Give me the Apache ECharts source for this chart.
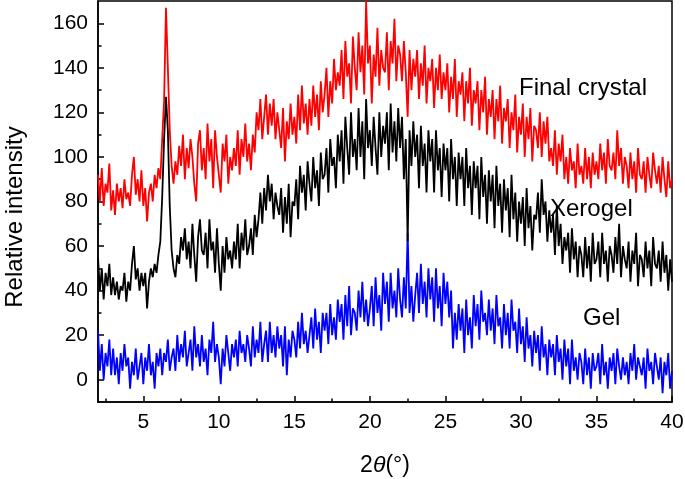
<!DOCTYPE html>
<html>
<head>
<meta charset="utf-8">
<script src="https://cdn.jsdelivr.net/npm/echarts@6/dist/echarts.min.js"></script>
<style>
  html, body { margin: 0; padding: 0; background: #fff; }
  #chart { width: 685px; height: 479px; }
</style>
</head>
<body>
<div id="chart"></div>
<script>
// 2theta grid of the scans: first angle and step (degrees)
var THETA_START = 2;
var THETA_STEP = 0.125;

// intensities, one row per degree (8 samples each)
var finalCrystal = [
  92, 80, 95, 78, 88, 84, 97, 76,
  85, 74, 88, 80, 86, 77, 90, 81,
  84, 78, 92, 100, 83, 90, 80, 94,
  78, 86, 71, 84, 88, 80, 92, 86,
  95, 90, 108, 125, 167, 140, 112, 96,
  88, 98, 92, 105, 96, 110, 90, 104,
  95, 108, 100, 88, 80, 106, 112, 94,
  104, 90, 115, 98, 108, 86, 112, 100,
  92, 84, 106, 98, 110, 88, 100, 94,
  104, 96, 112, 92, 108, 100, 115, 98,
  106, 94, 110, 102, 120, 112, 126, 108,
  118, 128, 110, 124, 114, 126, 108, 120,
  112, 104, 122, 98, 116, 108, 124, 110,
  118, 106, 128, 112, 132, 115, 124, 110,
  126, 114, 132, 118, 128, 112, 134, 120,
  128, 140, 118, 134, 124, 144, 130, 138,
  132, 148, 126, 152, 136, 142, 124, 154,
  140, 130, 156, 138, 150, 128, 170, 142,
  150, 124, 146, 136, 158, 132, 148, 140,
  138, 156, 130, 152, 142, 162, 134, 150,
  146, 134, 152, 138, 118, 148, 130, 144,
  136, 148, 126, 142, 132, 150, 124, 140,
  134, 144, 122, 140, 130, 146, 126, 138,
  130, 142, 120, 136, 126, 144, 118, 134,
  128, 138, 116, 134, 124, 140, 114, 130,
  124, 134, 112, 130, 120, 136, 110, 126,
  118, 130, 108, 126, 116, 132, 106, 122,
  116, 126, 104, 120, 112, 128, 102, 118,
  110, 124, 100, 118, 108, 122, 98, 114,
  112, 104, 120, 100, 116, 106, 118, 98,
  104, 96, 112, 92, 106, 98, 110, 90,
  100, 88, 104, 94, 98, 86, 106, 92,
  96, 88, 104, 90, 100, 86, 102, 92,
  98, 90, 106, 94, 102, 88, 108, 96,
  94, 102, 90, 112, 96, 104, 88, 100,
  96, 86, 102, 90, 98, 84, 104, 92,
  90, 98, 84, 100, 92, 86, 102, 94,
  88, 96, 84, 100, 90, 82, 98, 86,
  90
];

var xerogel = [
  55, 40, 50, 36, 48, 42, 52, 38,
  46, 38, 44, 36, 42, 40, 48, 35,
  44, 40, 52, 60, 45, 50, 40, 48,
  42, 48, 32, 44, 50, 46, 52, 48,
  56, 62, 82, 108, 127, 112, 78, 58,
  50, 46, 56, 52, 64, 58, 68, 54,
  62, 50, 70, 56, 44, 64, 72, 58,
  56, 66, 50, 72, 58, 62, 48, 68,
  52, 40, 60, 48, 64, 54, 58, 50,
  62, 54, 70, 50, 66, 58, 72, 56,
  60, 68, 56, 74, 64, 72, 84, 70,
  86, 76, 92, 80, 88, 72, 84, 78,
  74, 86, 66, 82, 70, 88, 64, 80,
  78, 90, 72, 96, 84, 92, 76, 98,
  88, 80, 100, 86, 94, 78, 102, 90,
  92, 104, 84, 108, 96, 100, 86, 110,
  98, 112, 88, 118, 104, 92, 120, 100,
  108, 94, 122, 100, 116, 90, 126, 104,
  112, 96, 118, 104, 92, 120, 100, 114,
  106, 120, 94, 124, 102, 116, 98, 122,
  104, 118, 90, 108, 62, 112, 96, 116,
  100, 110, 86, 114, 96, 106, 84, 112,
  98, 108, 84, 112, 94, 104, 82, 106,
  94, 104, 80, 108, 90, 100, 78, 102,
  90, 100, 78, 104, 86, 96, 74, 98,
  86, 96, 72, 100, 82, 92, 70, 94,
  80, 92, 68, 96, 78, 88, 66, 90,
  76, 86, 64, 92, 72, 84, 62, 80,
  70, 82, 60, 86, 68, 78, 58, 74,
  72, 84, 66, 90, 74, 80, 62, 76,
  66, 74, 56, 78, 60, 70, 52, 64,
  58, 66, 48, 68, 54, 62, 46, 60,
  56, 46, 64, 50, 60, 44, 66, 52,
  54, 62, 46, 66, 52, 58, 44, 60,
  56, 48, 64, 52, 70, 46, 60, 54,
  50, 62, 44, 58, 52, 66, 42, 56,
  54, 46, 62, 50, 58, 42, 64, 52,
  50, 58, 44, 62, 48, 56, 40, 54,
  44
];

var gel = [
  22, 4, 16, 0, 12, 6, 18, 2,
  14, 2, 10, -2, 12, 4, 16, 6,
  10, -4, 8, 2, 14, 0, 6, 12,
  -2, 10, 4, 16, 2, 8, -4, 12,
  6, 14, 2, 12, 8, 18, 4, 10,
  14, 4, 20, 8, 16, 10, 22, 6,
  12, 18, 4, 24, 10, 16, 6, 20,
  8, 14, 2, 18, 12, 26, 8, 16,
  10, -2, 14, 6, 20, 12, 4, 16,
  10, 18, 6, 22, 12, 16, 8, 20,
  14, 6, 24, 10, 18, 12, 26, 8,
  16, 22, 8, 26, 12, 20, 10, 24,
  14, 20, 6, 24, 2, 18, 10, 22,
  18, 10, 26, 14, 30, 16, 22, 12,
  20, 28, 14, 32, 18, 26, 12, 30,
  22, 30, 16, 34, 20, 28, 18, 36,
  26, 34, 18, 38, 24, 42, 20, 32,
  30, 22, 40, 28, 44, 26, 36, 24,
  32, 42, 24, 46, 30, 38, 22, 48,
  34, 44, 26, 48, 32, 40, 28, 50,
  36, 28, 46, 32, 66, 30, 42, 26,
  38, 48, 30, 52, 34, 44, 28, 50,
  36, 46, 26, 50, 32, 42, 24, 48,
  34, 44, 28, 40, 14, 30, 18, 34,
  22, 32, 12, 36, 20, 28, 14, 38,
  24, 34, 18, 40, 26, 30, 20, 36,
  22, 32, 16, 38, 24, 28, 14, 34,
  20, 30, 14, 36, 22, 26, 12, 32,
  16, 24, 8, 28, 14, 20, 6, 22,
  12, 20, 4, 24, 10, 16, 2, 18,
  10, 16, 2, 20, 8, 14, 0, 18,
  6, 14, -2, 18, 4, 10, 0, 12,
  8, -2, 14, 2, 10, -4, 12, 4,
  6, 12, -2, 16, 2, 8, -4, 10,
  4, 12, -2, 14, 6, 0, 10, 2,
  8, -2, 12, 4, 16, 0, 10, 6,
  2, 10, -4, 14, 4, 8, -2, 12,
  6, 0, 10, -6, 8, 2, 12, -4,
  4
];

// ticks
var xMajorTicks = [5, 10, 15, 20, 25, 30, 35, 40];
var xMinorTicks = [2.5, 7.5, 12.5, 17.5, 22.5, 27.5, 32.5, 37.5];
var yMajorTicks = [0, 20, 40, 60, 80, 100, 120, 140, 160];
var yMinorTicks = [10, 30, 50, 70, 90, 110, 130, 150];

var FONT = '"Liberation Sans", Arial, sans-serif';

function toPairs(vals) {
  return vals.map(function (v, i) { return [THETA_START + i * THETA_STEP, v]; });
}

var chart = echarts.init(document.getElementById('chart'), null, { renderer: 'canvas' });

function lineSeries(name, vals, color) {
  return {
    name: name,
    type: 'line',
    data: toPairs(vals),
    showSymbol: false,
    symbol: 'none',
    animation: false,
    lineStyle: { color: color, width: 1.8 },
    xAxisIndex: 0,
    yAxisIndex: 0
  };
}

var option = {
  backgroundColor: '#fff',
  animation: false,
  grid: {
    left: 98, right: 13, top: 1, bottom: 77,
    containLabel: false, outerBoundsMode: 'none',
    show: true, borderColor: '#000', borderWidth: 1.5, backgroundColor: 'transparent'
  },
  xAxis: [
    {
      type: 'value', min: 2, max: 40,
      name: '2{i|θ}(°)',
      nameLocation: 'middle', nameGap: 52,
      nameTextStyle: {
        fontFamily: FONT, fontSize: 23, color: '#000',
        rich: { i: { fontFamily: FONT, fontSize: 23, fontStyle: 'italic', color: '#000' } }
      },
      axisLine: { show: true, onZero: false, lineStyle: { color: '#000', width: 1.5 } },
      axisTick: { show: true, inside: true, length: 6, customValues: xMajorTicks, lineStyle: { color: '#000', width: 1.5 } },
      axisLabel: { show: true, customValues: xMajorTicks, margin: 10, fontFamily: FONT, fontSize: 21, color: '#000' },
      splitLine: { show: false }
    },
    {
      type: 'value', min: 2, max: 40, position: 'bottom',
      axisLine: { show: false, onZero: false },
      axisTick: { show: true, inside: true, length: 3.5, customValues: xMinorTicks, lineStyle: { color: '#000', width: 1.5 } },
      axisLabel: { show: false },
      splitLine: { show: false }
    }
  ],
  yAxis: [
    {
      type: 'value', min: -10, max: 170,
      axisLine: { show: true, onZero: false, lineStyle: { color: '#000', width: 1.5 } },
      axisTick: { show: true, inside: true, length: 6, customValues: yMajorTicks, lineStyle: { color: '#000', width: 1.5 } },
      axisLabel: { show: true, customValues: yMajorTicks, margin: 10, fontFamily: FONT, fontSize: 21, color: '#000' },
      splitLine: { show: false }
    },
    {
      type: 'value', min: -10, max: 170, position: 'left',
      axisLine: { show: false, onZero: false },
      axisTick: { show: true, inside: true, length: 3.5, customValues: yMinorTicks, lineStyle: { color: '#000', width: 1.5 } },
      axisLabel: { show: false },
      splitLine: { show: false }
    }
  ],
  series: [
    lineSeries('Gel', gel, '#0000ff'),
    lineSeries('Xerogel', xerogel, '#000000'),
    lineSeries('Final crystal', finalCrystal, '#ff0000')
  ],
  graphic: [
    {
      type: 'text', x: 15, y: 217, rotation: Math.PI / 2,
      style: { text: 'Relative intensity', fontFamily: FONT, fontSize: 24, fill: '#000', align: 'center', verticalAlign: 'middle' }
    },
    {
      type: 'text', x: 519, y: 88,
      style: { text: 'Final crystal', fontFamily: FONT, fontSize: 24, fill: '#000', align: 'left', verticalAlign: 'middle' }
    },
    {
      type: 'text', x: 550, y: 209,
      style: { text: 'Xerogel', fontFamily: FONT, fontSize: 24, fill: '#000', align: 'left', verticalAlign: 'middle' }
    },
    {
      type: 'text', x: 583, y: 318,
      style: { text: 'Gel', fontFamily: FONT, fontSize: 24, fill: '#000', align: 'left', verticalAlign: 'middle' }
    }
  ]
};

chart.setOption(option);
</script>
</body>
</html>
